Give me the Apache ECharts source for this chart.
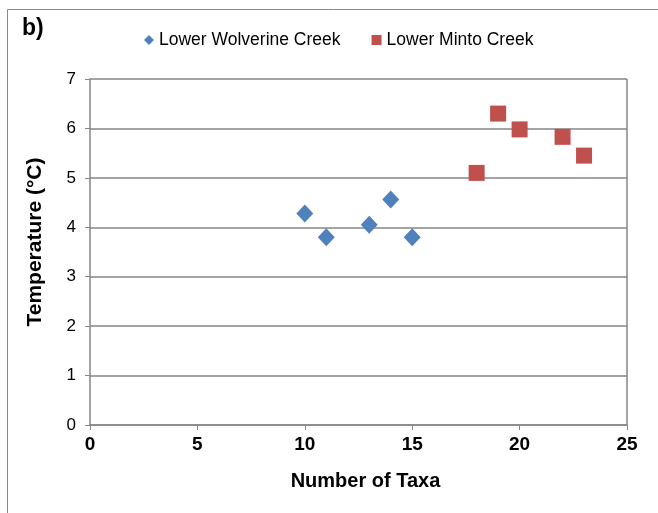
<!DOCTYPE html>
<html>
<head>
<meta charset="utf-8">
<script src="https://cdn.jsdelivr.net/npm/echarts@6/dist/echarts.min.js"></script>
<style>html,body{margin:0;padding:0;background:#fff;}#c{width:658px;height:513px;}</style>
</head>
<body>
<div id="c"></div>
<script>
var wolverineTaxa = [10, 11, 13, 14, 15];
var wolverineTemp = [4.28, 3.8, 4.05, 4.56, 3.8];
var mintoTaxa = [18, 19, 20, 22, 23];
var mintoTemp = [5.1, 6.3, 5.98, 5.83, 5.45];
var seriesNames = ['Lower Wolverine Creek', 'Lower Minto Creek'];
var xTicks = [0, 5, 10, 15, 20, 25];
var yTicks = [0, 1, 2, 3, 4, 5, 6, 7];

function pairs(xs, ys) { return xs.map(function (x, i) { return [x, ys[i]]; }); }

var chart = echarts.init(document.getElementById('c'), null, {renderer: 'canvas'});
var font = 'Liberation Sans, Arial, sans-serif';
chart.setOption({
  animation: false,
  textStyle: {fontFamily: font},
  graphic: [
    {type: 'rect', shape: {x: 7.5, y: 9.5, width: 700, height: 600}, style: {fill: 'none', stroke: '#8a8a8a', lineWidth: 1}, z: -1},
    {type: 'text', left: 22, top: 17, style: {text: 'b)', font: 'bold 23px ' + font, fill: '#000'}},
    {type: 'text', x: 35, y: 242, rotation: Math.PI / 2,
     style: {text: 'Temperature (°C)', font: 'bold 21px ' + font, fill: '#000', textAlign: 'center', textVerticalAlign: 'middle'}}
  ],
  legend: {
    top: 26, left: 139,
    itemWidth: 10, itemHeight: 10, itemGap: 31,
    textStyle: {fontSize: 17.5, color: '#000', fontFamily: font},
    data: [
      {name: seriesNames[0], icon: 'diamond'},
      {name: seriesNames[1], icon: 'rect'}
    ]
  },
  grid: {left: 90, right: 31, top: 79, bottom: 88},
  xAxis: {
    type: 'value', min: xTicks[0], max: xTicks[xTicks.length - 1], interval: 5,
    name: 'Number of Taxa', nameLocation: 'middle', nameGap: 46,
    nameTextStyle: {fontSize: 20, fontWeight: 'bold', color: '#000', padding: [0, 0, 0, 14]},
    axisLine: {show: true, lineStyle: {color: '#868686', width: 1.5}},
    axisTick: {show: true, length: 5, lineStyle: {color: '#868686'}},
    axisLabel: {fontSize: 19, fontWeight: 'bold', color: '#000', margin: 10},
    splitLine: {show: false}
  },
  yAxis: {
    type: 'value', min: yTicks[0], max: yTicks[yTicks.length - 1], interval: 1,
    axisLine: {show: true, lineStyle: {color: '#868686', width: 1.5}},
    axisTick: {show: true, length: 5, lineStyle: {color: '#868686'}},
    axisLabel: {fontSize: 17, color: '#000', margin: 14},
    splitLine: {show: true, lineStyle: {color: '#868686', width: 1.5}}
  },
  series: [
    {
      name: seriesNames[0], type: 'scatter', symbol: 'diamond', symbolSize: [17, 18],
      itemStyle: {color: '#4f81bd', opacity: 1},
      data: pairs(wolverineTaxa, wolverineTemp)
    },
    {
      name: seriesNames[1], type: 'scatter', symbol: 'rect', symbolSize: 16,
      itemStyle: {color: '#c0504d', opacity: 1},
      data: pairs(mintoTaxa, mintoTemp)
    },
    {
      type: 'line', silent: true, symbol: 'none', data: [[25, 0], [25, 7]],
      lineStyle: {color: '#868686', width: 1.5}, z: 1, legendHoverLink: false
    }
  ]
});
</script>
</body>
</html>
